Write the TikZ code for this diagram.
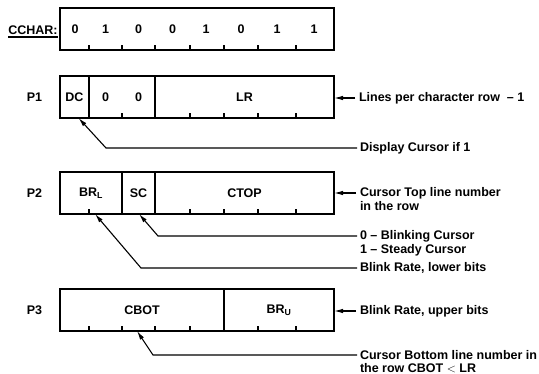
\documentclass[tikz,border=0pt]{standalone}
\usepackage{fontspec}
\setmainfont{Liberation Sans}
\usetikzlibrary{arrows.meta}
\begin{document}
\begin{tikzpicture}[x=1pt,y=-1pt,
  every node/.style={font=\bfseries\fontsize{12.5}{14}\selectfont, inner sep=0pt, outer sep=0pt},
  reg/.style={draw, line width=1.3pt, minimum height=42pt, minimum width=274pt},
  cell/.style={minimum height=42pt},
  divider/.style={line width=1.3pt},
  tick/.style={line width=1.1pt},
  conn/.style={line width=1.1pt, -{Latex[length=9pt,width=4.5pt]}},
  lbl/.style={anchor=west}
]
\useasboundingbox (0,0) rectangle (539,374);

% ---------- CCHAR ----------
\node (cchar) at (33,30) {CCHAR:};
\draw[line width=1.2pt] ([yshift=-2.5pt]cchar.south west) -- ([yshift=-2.5pt]cchar.south east);
\node[reg] (cc) at (197,29) {};
\foreach \x in {89,122,155,190,224,258,296} \draw[tick] (\x,50) -- (\x,45);
\node (b7) at (75,29) {0};
\node (b6) at (105.5,29) {1};
\node (b5) at (138.5,29) {0};
\node (b4) at (172.5,29) {0};
\node (b3) at (206,29) {1};
\node (b2) at (241,29) {0};
\node (b1) at (277,29) {1};
\node (b0) at (314,29) {1};

% ---------- P1 ----------
\node (p1l) at (34.5,97) {P1};
\node[reg] (p1) at (197,97) {};
\node[cell, minimum width=29pt] (dc) at (74.5,97) {DC};
\node[cell, minimum width=33pt] (z1) at (105.5,97) {0};
\node[cell, minimum width=33pt] (z2) at (138.5,97) {0};
\node[cell, minimum width=179pt] (lr) at (244.5,97) {LR};
\draw[divider] (dc.north east) -- (dc.south east);
\draw[divider] (z2.north east) -- (z2.south east);
\foreach \x in {122,190,224,258,296} \draw[tick] (\x,118) -- (\x,113);

\node[lbl] (lpc) at (359,98) {Lines per character row \;-- 1};
\draw[conn] ([xshift=-4pt]lpc.west) -- (lpc.west -| p1.east);

\node[lbl] (disp) at (360,148) {Display Cursor if 1};
\draw[conn] ([xshift=-3pt]disp.west) -- (106,148) -- ([xshift=4pt]dc.south);

% ---------- P2 ----------
\node (p2l) at (34.5,193) {P2};
\node[reg] (p2) at (197,193) {};
\node[cell, minimum width=62pt] (brl) at (91,193) {BR\textsubscript{L}};
\node[cell, minimum width=33pt] (sc) at (138.5,193) {SC};
\node[cell, minimum width=179pt] (ctop) at (244.5,193) {CTOP};
\draw[divider] (brl.north east) -- (brl.south east);
\draw[divider] (sc.north east) -- (sc.south east);
\foreach \x in {89,190,224,258,296} \draw[tick] (\x,214) -- (\x,209);

\node[lbl] (ctl1) at (360,193) {Cursor Top line number};
\node[lbl] (ctl2) at (360,206) {in the row};
\draw[conn] ([xshift=-4pt]ctl1.west) -- (ctl1.west -| p2.east);

\node[lbl] (scl1) at (360,236) {0 -- Blinking Cursor};
\node[lbl] (scl2) at (360,250) {1 -- Steady Cursor};
\draw[conn] ([xshift=-3pt]scl1.west) -- (158,236) -- ([xshift=0.5pt]sc.south);

\node[lbl] (brll) at (360,268) {Blink Rate, lower bits};
\draw[conn] ([xshift=-3pt]brll.west) -- (141,268) -- ([xshift=4pt]brl.south);

% ---------- P3 ----------
\node (p3l) at (34.5,310) {P3};
\node[reg] (p3) at (197,310) {};
\node[cell, minimum width=164pt] (cbot) at (142,310) {CBOT};
\node[cell, minimum width=110pt] (bru) at (279,310) {BR\textsubscript{U}};
\draw[divider] (cbot.north east) -- (cbot.south east);
\foreach \x in {89,122,155,190,258,296} \draw[tick] (\x,331) -- (\x,326);

\node[lbl] (brul) at (360,311) {Blink Rate, upper bits};
\draw[conn] ([xshift=-4pt]brul.west) -- (brul.west -| p3.east);

\node[lbl] (cbl1) at (360,355) {Cursor Bottom line number in};
\node[lbl] (cbl2) at (360,368) {the row CBOT $<$ LR};
\draw[conn] ([xshift=-3pt]cbl1.west) -- (153,355) -- ([xshift=-5pt]cbot.south);
\end{tikzpicture}
\end{document}
